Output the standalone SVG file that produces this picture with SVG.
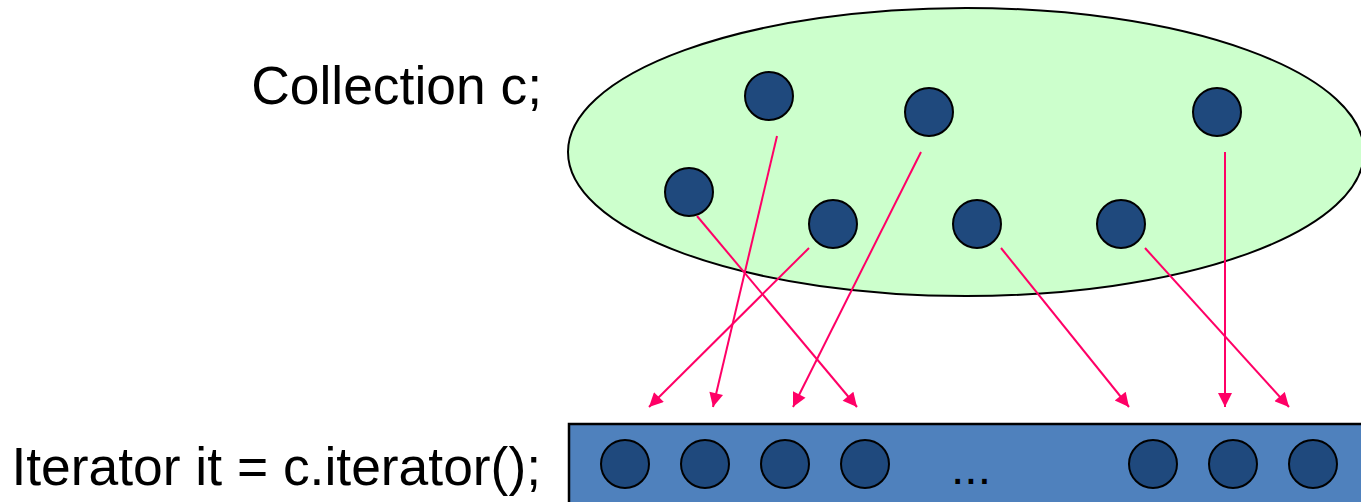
<svg xmlns="http://www.w3.org/2000/svg" width="1361" height="502" viewBox="0 0 1361 502">
<style>
.lbl{font-family:"Liberation Sans",Arial,sans-serif;fill:#000}
.dot{fill:#1F497D;stroke:#000;stroke-width:2}
.arr{stroke:#FF0066;stroke-width:2;fill:none;marker-end:url(#ah)}
</style>
<defs>
<marker id="ah" viewBox="0 0 10 10" refX="10" refY="5" markerWidth="16" markerHeight="14" markerUnits="userSpaceOnUse" orient="auto">
<path d="M0,0 L10,5 L0,10 Z" fill="#FF0066"/>
</marker>
</defs>
<rect width="1361" height="502" fill="#fff"/>
<text class="lbl" x="542" y="104" font-size="53.4" text-anchor="end">Collection c;</text>
<text class="lbl" x="541" y="485" font-size="53.4" text-anchor="end">Iterator it = c.iterator();</text>
<g id="collection">
<ellipse cx="966" cy="152" rx="398" ry="144" fill="#CCFFCC" stroke="#000" stroke-width="2"/>
<circle class="dot" cx="769" cy="96" r="24"/>
<circle class="dot" cx="929" cy="112" r="24"/>
<circle class="dot" cx="1217" cy="112" r="24"/>
<circle class="dot" cx="689" cy="192" r="24"/>
<circle class="dot" cx="833" cy="224" r="24"/>
<circle class="dot" cx="977" cy="224" r="24"/>
<circle class="dot" cx="1121" cy="224" r="24"/>
</g>
<g id="iterator">
<rect x="569" y="424" width="800" height="90" fill="#4F81BD" stroke="#000" stroke-width="2.5"/>
<circle class="dot" cx="625" cy="464" r="24"/>
<circle class="dot" cx="705" cy="464" r="24"/>
<circle class="dot" cx="785" cy="464" r="24"/>
<circle class="dot" cx="865" cy="464" r="24"/>
<circle class="dot" cx="1153" cy="464" r="24"/>
<circle class="dot" cx="1233" cy="464" r="24"/>
<circle class="dot" cx="1313" cy="464" r="24"/>
<text class="lbl" x="951" y="484" font-size="48">...</text>
</g>
<g id="connectors">
<line class="arr" x1="777" y1="136" x2="713" y2="407"/>
<line class="arr" x1="921" y1="152" x2="793" y2="407"/>
<line class="arr" x1="697" y1="216" x2="857" y2="407"/>
<line class="arr" x1="809" y1="248" x2="649" y2="407"/>
<line class="arr" x1="1001" y1="248" x2="1129" y2="407"/>
<line class="arr" x1="1145" y1="248" x2="1289" y2="407"/>
<line class="arr" x1="1225" y1="152" x2="1225" y2="407"/>
</g>
</svg>
